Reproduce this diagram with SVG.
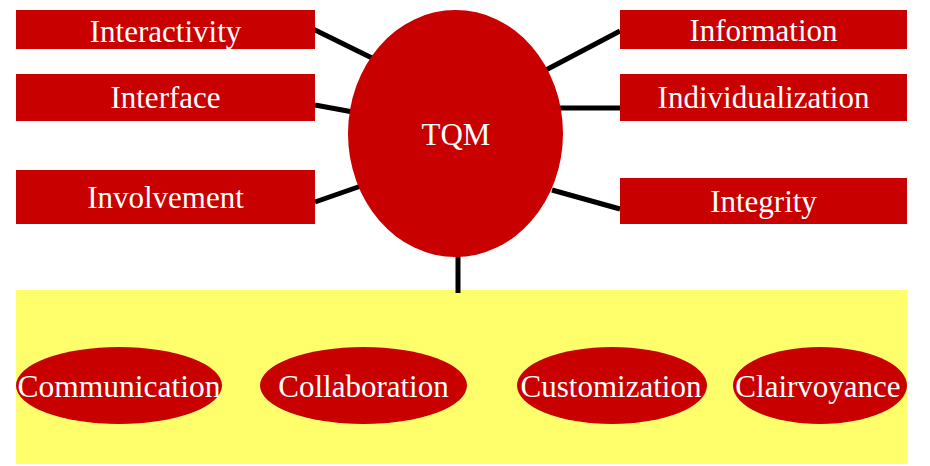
<svg xmlns="http://www.w3.org/2000/svg" width="930" height="466" viewBox="0 0 930 466">
  <style>
    .box { fill: #C80000; }
    .panel { fill: #FFFF6B; }
    .label { fill: #FFFFFF; font-family: "Liberation Serif", "Times New Roman", serif; font-size: 31px; text-anchor: middle; }
    .link { stroke: #000000; stroke-width: 5; stroke-linecap: butt; fill: none; }
  </style>
  <rect width="930" height="466" fill="#FFFFFF"/>

  <!-- bottom panel holding the four C's -->
  <g id="panel">
    <rect class="panel" x="16" y="290" width="891" height="174"/>
  </g>

  <!-- connectors from the central TQM ellipse -->
  <g id="connectors">
    <line class="link" x1="313" y1="29" x2="374" y2="59"/>
    <line class="link" x1="315" y1="105" x2="353" y2="112"/>
    <line class="link" x1="315" y1="202" x2="361" y2="186"/>
    <line class="link" x1="620" y1="31" x2="544" y2="71"/>
    <line class="link" x1="559" y1="108" x2="620" y2="108"/>
    <line class="link" x1="552" y1="190" x2="620" y2="209"/>
    <line class="link" x1="458" y1="256" x2="458" y2="293"/>
  </g>

  <g id="tqm">
    <ellipse class="box" cx="455.5" cy="133.5" rx="107.5" ry="123.5"/>
    <text class="label" x="456" y="145">TQM</text>
  </g>

  <g id="interactivity">
    <rect class="box" x="16" y="10" width="299" height="39"/>
    <text class="label" x="165.5" y="41.5">Interactivity</text>
  </g>
  <g id="interface">
    <rect class="box" x="16" y="74" width="299" height="47"/>
    <text class="label" x="165.5" y="108">Interface</text>
  </g>
  <g id="involvement">
    <rect class="box" x="16" y="170" width="299" height="54"/>
    <text class="label" x="165.5" y="208">Involvement</text>
  </g>

  <g id="information">
    <rect class="box" x="620" y="10" width="287" height="39"/>
    <text class="label" x="763.5" y="41">Information</text>
  </g>
  <g id="individualization">
    <rect class="box" x="620" y="74" width="287" height="47"/>
    <text class="label" x="763.5" y="108">Individualization</text>
  </g>
  <g id="integrity">
    <rect class="box" x="620" y="178" width="287" height="46"/>
    <text class="label" x="763.5" y="212">Integrity</text>
  </g>

  <g id="communication">
    <ellipse class="box" cx="119" cy="385.5" rx="103" ry="38.5"/>
    <text class="label" x="119" y="397" textLength="203" lengthAdjust="spacingAndGlyphs">Communication</text>
  </g>
  <g id="collaboration">
    <ellipse class="box" cx="363.5" cy="385.5" rx="103.5" ry="38.5"/>
    <text class="label" x="363.5" y="397">Collaboration</text>
  </g>
  <g id="customization">
    <ellipse class="box" cx="612" cy="385.5" rx="95" ry="38.5"/>
    <text class="label" x="611" y="397">Customization</text>
  </g>
  <g id="clairvoyance">
    <ellipse class="box" cx="820" cy="385.5" rx="87" ry="38.5"/>
    <text class="label" x="818" y="397">Clairvoyance</text>
  </g>
</svg>
